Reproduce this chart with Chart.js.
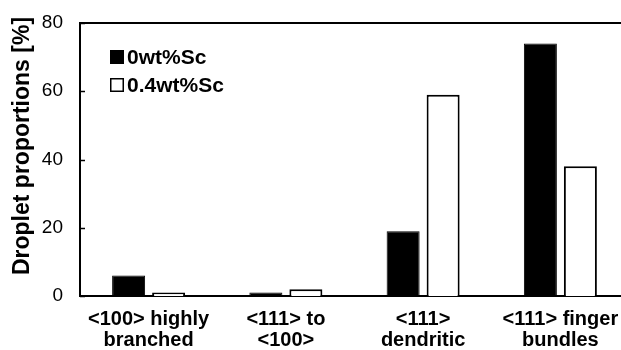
<!DOCTYPE html>
<html>
<head>
<meta charset="utf-8">
<script src="https://cdn.jsdelivr.net/npm/chart.js@4.4.1/dist/chart.umd.min.js"></script>
<style>
  html, body { margin: 0; padding: 0; background: #fff; overflow: hidden; }
  #wrap { width: 640px; height: 350px; }
</style>
</head>
<body>
<div id="wrap"><canvas id="chart" width="640" height="350"></canvas></div>
<script>
// data
const CATEGORIES = [
  ['<100> highly', 'branched'],
  ['<111> to', '<100>'],
  ['<111>', 'dendritic'],
  ['<111> finger', 'bundles'],
];
const SC_0   = [6, 1, 19, 74];
const SC_04  = [1, 2, 59, 38];
const SERIES_NAMES = ['0wt%Sc', '0.4wt%Sc'];
const Y_TICKS = [0, 20, 40, 60, 80];
const Y_TITLE = 'Droplet proportions [%]';

const FONT = '"Liberation Sans", Arial, sans-serif';

// top frame line, inward y ticks, y axis title
const framePlugin = {
  id: 'frame',
  afterDraw(chart) {
    const { ctx, chartArea } = chart;
    const y = chart.scales.y;
    ctx.save();
    ctx.strokeStyle = '#000';
    ctx.lineWidth = 2;
    ctx.beginPath();
    ctx.moveTo(chartArea.left - 1, chartArea.top);
    ctx.lineTo(chart.width, chartArea.top);
    ctx.stroke();
    ctx.lineWidth = 1.5;
    Y_TICKS.forEach(v => {
      const py = Math.round(y.getPixelForValue(v)) + 0.5;
      ctx.beginPath();
      ctx.moveTo(chartArea.left, py);
      ctx.lineTo(chartArea.left + 5, py);
      ctx.stroke();
    });
    // title sits a little above the middle of the axis, as in the original
    ctx.translate(23, 146);
    ctx.rotate(-Math.PI / 2);
    ctx.font = `bold 23px ${FONT}`;
    ctx.textAlign = 'center';
    ctx.textBaseline = 'middle';
    ctx.fillStyle = '#000';
    ctx.fillText(Y_TITLE, 0, 0);
    ctx.restore();
  }
};

// legend drawn inside the plot, top left
const legendPlugin = {
  id: 'innerLegend',
  afterDraw(chart) {
    const { ctx } = chart;
    ctx.save();
    ctx.font = `bold 21px ${FONT}`;
    ctx.textBaseline = 'middle';
    ctx.fillStyle = '#000';
    chart.data.datasets.forEach((ds, i) => {
      const cy = 57 + i * 28;
      if (i === 0) {
        ctx.fillRect(110, cy - 7, 14, 14);
      } else {
        ctx.lineWidth = 1.5;
        ctx.strokeRect(110.75, cy - 6.25, 12.5, 12.5);
      }
      ctx.fillText(ds.label, 127, cy + 1);
    });
    ctx.restore();
  }
};

new Chart(document.getElementById('chart'), {
  type: 'bar',
  data: {
    labels: CATEGORIES,
    datasets: [
      {
        label: SERIES_NAMES[0],
        data: SC_0,
        backgroundColor: '#000',
        borderColor: '#000',
        borderWidth: 1,
        categoryPercentage: 0.583,
        barPercentage: 0.825,
      },
      {
        label: SERIES_NAMES[1],
        data: SC_04,
        backgroundColor: '#fff',
        borderColor: '#000',
        borderWidth: 2,
        categoryPercentage: 0.583,
        barPercentage: 0.825,
      }
    ]
  },
  options: {
    responsive: false,
    animation: false,
    layout: { padding: { top: 23, right: 11, left: 0, bottom: 0 } },
    scales: {
      x: {
        grid: { display: false, drawTicks: false },
        border: { display: true, color: '#000', width: 2 },
        ticks: {
          color: '#000',
          padding: 13,
          maxRotation: 0,
          autoSkip: false,
          font: { family: FONT, size: 20, weight: 'bold', lineHeight: 1.05 },
        },
        afterFit(scale) {
          scale.height = 54;
          scale.paddingLeft = 0;
          scale.paddingRight = 0;
        }
      },
      y: {
        min: 0,
        max: 80,
        grid: { display: false, drawTicks: false },
        border: { display: true, color: '#000', width: 2 },
        ticks: {
          stepSize: 20,
          color: '#000',
          padding: 17,
          font: { family: FONT, size: 19 },
        },
        afterFit(scale) {
          scale.width = 80;
          scale.paddingTop = 0;
          scale.paddingBottom = 0;
        }
      }
    },
    plugins: {
      legend: { display: false },
      tooltip: { enabled: false }
    }
  },
  plugins: [framePlugin, legendPlugin]
});
</script>
</body>
</html>
